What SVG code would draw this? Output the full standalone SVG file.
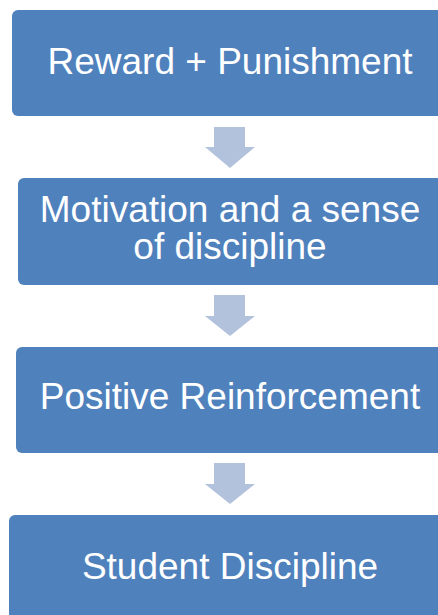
<svg xmlns="http://www.w3.org/2000/svg" width="438" height="615" viewBox="0 0 438 615">
<style>
.box{fill:#4F81BD;}
.lbl{fill:#FFFFFF;font-family:"Liberation Sans",Arial,sans-serif;font-size:37px;text-anchor:middle;}
.arr{fill:#B3C2DC;}
</style>
<rect width="438" height="615" fill="#FFFFFF"/>
<g id="connectors">
<polygon class="arr" points="214,127 245,127 245,147 255,147 230,168 205,147 214,147"/>
<polygon class="arr" points="214,295 245,295 245,316 255,316 230,336 205,316 214,316"/>
<polygon class="arr" points="214,463 245,463 245,484 255,484 230,504 205,484 214,484"/>
</g>
<g id="node1">
<rect class="box" x="12" y="10" width="440" height="106" rx="6"/>
<text class="lbl" x="230" y="74">Reward + Punishment</text>
</g>
<g id="node2">
<rect class="box" x="18" y="178" width="440" height="107" rx="6"/>
<text class="lbl" x="230" y="222"><tspan x="230" y="222">Motivation and a sense</tspan><tspan x="230" y="259">of discipline</tspan></text>
</g>
<g id="node3">
<rect class="box" x="16" y="347" width="440" height="106" rx="6"/>
<text class="lbl" x="230" y="409">Positive Reinforcement</text>
</g>
<g id="node4">
<rect class="box" x="9" y="515" width="440" height="120" rx="6"/>
<text class="lbl" x="230" y="579">Student Discipline</text>
</g>
</svg>
